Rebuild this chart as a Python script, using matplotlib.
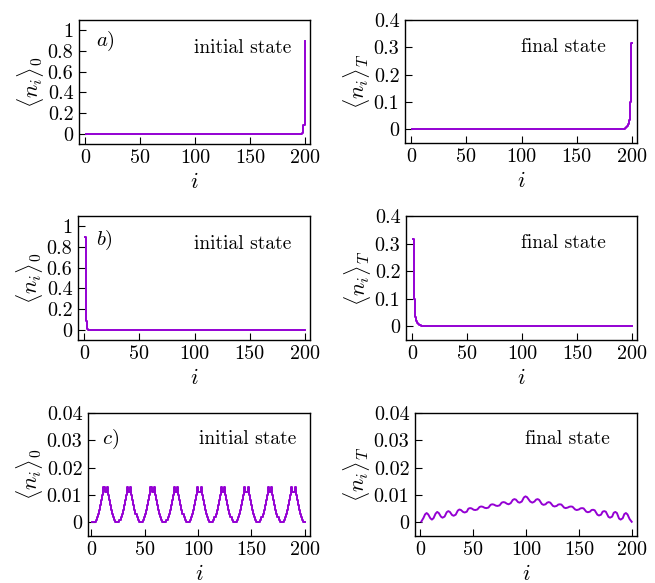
import numpy as np
import matplotlib
matplotlib.use("Agg")
import matplotlib.pyplot as plt
from matplotlib.ticker import FixedLocator, FuncFormatter

plt.rcParams["font.family"] = ["cmr10", "DejaVu Serif"]
plt.rcParams["mathtext.fontset"] = "cm"
plt.rcParams["axes.formatter.use_mathtext"] = True
plt.rcParams["font.size"] = 14.5

# site index
sites = list(range(1, 201))

# a) edge-localized state at the right end (last sites)
tail_a0 = [0.0, 0.0009, 0.009, 0.085, 0.9]
tail_aT = [0.002, 0.003, 0.005, 0.008, 0.012, 0.02, 0.034, 0.10, 0.315]

# b) edge-localized state at the left end (first sites)
head_b0 = [0.9, 0.085, 0.009, 0.0009, 0.0]
head_bT = [0.315, 0.10, 0.034, 0.02, 0.012, 0.008, 0.005, 0.003, 0.002]

# c) extended state, initial occupation (all 200 sites)
c0 = [
    0.0003, 0.0, 0.0, 0.0003, 0.0008, 0.0018, 0.0030, 0.0045, 0.0062, 0.0080, 0.0100,
    0.0128, 0.0112, 0.0112, 0.0128, 0.0100, 0.0080, 0.0062, 0.0045, 0.0030, 0.0018, 0.0008,
    0.0003, 0.0, 0.0, 0.0003, 0.0008, 0.0018, 0.0030, 0.0045, 0.0062, 0.0080, 0.0100,
    0.0128, 0.0112, 0.0112, 0.0128, 0.0100, 0.0080, 0.0062, 0.0045, 0.0030, 0.0018, 0.0008,
    0.0003, 0.0, 0.0, 0.0003, 0.0008, 0.0018, 0.0030, 0.0045, 0.0062, 0.0080, 0.0100,
    0.0128, 0.0112, 0.0112, 0.0128, 0.0100, 0.0080, 0.0062, 0.0045, 0.0030, 0.0018, 0.0008,
    0.0003, 0.0, 0.0, 0.0003, 0.0008, 0.0018, 0.0030, 0.0045, 0.0062, 0.0080, 0.0100,
    0.0128, 0.0112, 0.0112, 0.0128, 0.0100, 0.0080, 0.0062, 0.0045, 0.0030, 0.0018, 0.0008,
    0.0003, 0.0, 0.0, 0.0003, 0.0008, 0.0018, 0.0030, 0.0045, 0.0062, 0.0080, 0.0100,
    0.0128, 0.0112, 0.0112, 0.0128, 0.0100, 0.0080, 0.0062, 0.0045, 0.0030, 0.0018, 0.0008,
    0.0003, 0.0, 0.0, 0.0003, 0.0008, 0.0018, 0.0030, 0.0045, 0.0062, 0.0080, 0.0100,
    0.0128, 0.0112, 0.0112, 0.0128, 0.0100, 0.0080, 0.0062, 0.0045, 0.0030, 0.0018, 0.0008,
    0.0003, 0.0, 0.0, 0.0003, 0.0008, 0.0018, 0.0030, 0.0045, 0.0062, 0.0080, 0.0100,
    0.0128, 0.0112, 0.0112, 0.0128, 0.0100, 0.0080, 0.0062, 0.0045, 0.0030, 0.0018, 0.0008,
    0.0003, 0.0, 0.0, 0.0003, 0.0008, 0.0018, 0.0030, 0.0045, 0.0062, 0.0080, 0.0100,
    0.0128, 0.0112, 0.0112, 0.0128, 0.0100, 0.0080, 0.0062, 0.0045, 0.0030, 0.0018, 0.0008,
    0.0003, 0.0, 0.0, 0.0003, 0.0008, 0.0018, 0.0030, 0.0045, 0.0062, 0.0080, 0.0100,
    0.0128, 0.0112, 0.0112, 0.0128, 0.0100, 0.0080, 0.0062, 0.0045, 0.0030, 0.0018, 0.0008,
    0.0003, 0.0,
]

# c) final occupation, read along the wiggle (peaks, shoulders, troughs)
cT_x = [1, 3, 4.5, 6, 7.5, 9.5, 11, 12.5, 14.5, 16, 17.5, 19.5, 21, 23, 25, 26.5, 28,
        30, 31.5, 33.5, 35.5, 37, 38.5, 40.5, 42, 44, 45.5, 47, 48.5, 50.5, 52, 54,
        56, 57.5, 59, 61, 62.5, 64.5, 66.5, 68, 69.5, 71.5, 73, 75, 77, 78.5, 80, 82,
        83.5, 85.5, 87.5, 89, 90.5, 92.5, 94, 96, 98, 99.5, 101, 104, 106, 108, 109.5,
        111, 112.5, 115, 116.5, 118.5, 120, 121.5, 123, 125.5, 127, 129, 130.5, 132,
        133.5, 136, 137.5, 139.5, 141, 142.5, 144, 146.5, 148, 150, 151.5, 153, 154.5,
        157, 158.5, 160.5, 162, 163.5, 165, 167.5, 169, 171, 172.5, 174, 175.5, 178,
        179.5, 181.5, 183, 184.5, 186, 188, 189.5, 191.5, 193, 194.5, 196, 198, 200]
cT_y = [0.0003, 0.0016, 0.0029, 0.0034, 0.0029, 0.0015, 0.0010, 0.0015, 0.0032,
        0.0038, 0.0034, 0.0021, 0.0017, 0.0021, 0.0037, 0.0041, 0.0038, 0.0027, 0.0024,
        0.0028, 0.0043, 0.0047, 0.0045, 0.0038, 0.0036, 0.0039, 0.0050, 0.0052, 0.0051,
        0.0046, 0.0045, 0.0047, 0.0056, 0.0058, 0.0057, 0.0053, 0.0052, 0.0054, 0.0064,
        0.0066, 0.0065, 0.0061, 0.0060, 0.0062, 0.0072, 0.0074, 0.0073, 0.0068, 0.0066,
        0.0070, 0.0082, 0.0085, 0.0083, 0.0074, 0.0072, 0.0076, 0.0091, 0.0095, 0.0092,
        0.0076, 0.0072, 0.0076, 0.0083, 0.0085, 0.0082, 0.0067, 0.0064, 0.0066, 0.0072,
        0.0074, 0.0072, 0.0060, 0.0058, 0.0060, 0.0065, 0.0066, 0.0065, 0.0054, 0.0052,
        0.0054, 0.0057, 0.0058, 0.0057, 0.0047, 0.0045, 0.0047, 0.0051, 0.0052, 0.0051,
        0.0039, 0.0037, 0.0039, 0.0045, 0.0046, 0.0044, 0.0028, 0.0025, 0.0028, 0.0039,
        0.0041, 0.0039, 0.0020, 0.0017, 0.0021, 0.0035, 0.0038, 0.0034, 0.0014, 0.0010,
        0.0015, 0.0030, 0.0034, 0.0029, 0.0012, 0.0002]

a0 = [0.0] * (200 - len(tail_a0)) + tail_a0
aT = [0.0] * (200 - len(tail_aT)) + tail_aT
b0 = head_b0 + [0.0] * (200 - len(head_b0))
bT = head_bT + [0.0] * (200 - len(head_bT))

color = "#9400D3"
W, H = 655, 583
fig = plt.figure(figsize=(W / 100, H / 100), dpi=100)


def add_ax(left, top, right, bottom):
    return fig.add_axes([left / W, 1 - bottom / H, (right - left) / W, (bottom - top) / H])


fmt = FuncFormatter(lambda v, p: "%g" % v)


def style(ax, yticks, ylim, xlim, ylabel):
    ax.set_xlim(*xlim)
    ax.set_ylim(*ylim)
    ax.xaxis.set_major_locator(FixedLocator([0, 50, 100, 150, 200]))
    ax.yaxis.set_major_locator(FixedLocator(yticks))
    ax.xaxis.set_major_formatter(fmt)
    ax.yaxis.set_major_formatter(fmt)
    ax.tick_params(direction="in", length=5, width=0.8, top=False, right=False, pad=4)
    ax.set_xlabel("$i$", labelpad=3, fontsize=16)
    ax.set_ylabel(ylabel, labelpad=1, fontsize=16)
    for s in ax.spines.values():
        s.set_linewidth(1.0)


lab0 = r"$\langle n_i\rangle_0$"
labT = r"$\langle n_i\rangle_T$"
yt1 = [0, 0.2, 0.4, 0.6, 0.8, 1]
ytT = [0, 0.1, 0.2, 0.3, 0.4]
ytc = [0, 0.01, 0.02, 0.03, 0.04]
lw = 1.4
tfs = 14

# row 1
ax = add_ax(79, 20, 310, 144)
ax.plot(sites, a0, color=color, lw=lw, drawstyle="steps-mid")
style(ax, yt1, (-0.1, 1.1), (-5.5, 204.5), lab0)
ax.text(0.072, 0.83, "$a)$", transform=ax.transAxes, va="center", ha="left", fontsize=15)
ax.text(0.92, 0.77, "initial state", transform=ax.transAxes, va="center", ha="right", fontsize=tfs)

ax = add_ax(405, 20, 637, 143)
ax.plot(sites, aT, color=color, lw=lw, drawstyle="steps-mid")
style(ax, ytT, (-0.05, 0.4), (-5.5, 204.5), labT)
ax.text(0.866, 0.78, "final state", transform=ax.transAxes, va="center", ha="right", fontsize=tfs)

# row 2
ax = add_ax(78, 216, 310, 340)
ax.plot(sites, b0, color=color, lw=lw, drawstyle="steps-mid")
style(ax, yt1, (-0.1, 1.1), (-5.5, 204.5), lab0)
ax.text(0.078, 0.80, "$b)$", transform=ax.transAxes, va="center", ha="left", fontsize=15)
ax.text(0.92, 0.77, "initial state", transform=ax.transAxes, va="center", ha="right", fontsize=tfs)

ax = add_ax(406, 216, 637, 340)
ax.plot(sites, bT, color=color, lw=lw, drawstyle="steps-mid")
style(ax, ytT, (-0.05, 0.4), (-5.5, 204.5), labT)
ax.text(0.866, 0.78, "final state", transform=ax.transAxes, va="center", ha="right", fontsize=tfs)

# row 3
ax = add_ax(88, 413, 310, 536)
ax.plot(sites, c0, color=color, lw=lw, drawstyle="steps-mid")
style(ax, ytc, (-0.005, 0.04), (-3, 205), lab0)
ax.text(0.062, 0.786, "$c)$", transform=ax.transAxes, va="center", ha="left", fontsize=15)
ax.text(0.94, 0.786, "initial state", transform=ax.transAxes, va="center", ha="right", fontsize=tfs)

ax = add_ax(415, 413, 637, 536)
ax.plot(cT_x, cT_y, color=color, lw=lw)
style(ax, ytc, (-0.005, 0.04), (-5, 205), labT)
ax.text(0.878, 0.79, "final state", transform=ax.transAxes, va="center", ha="right", fontsize=tfs)

plt.savefig("out.png", dpi=100)
